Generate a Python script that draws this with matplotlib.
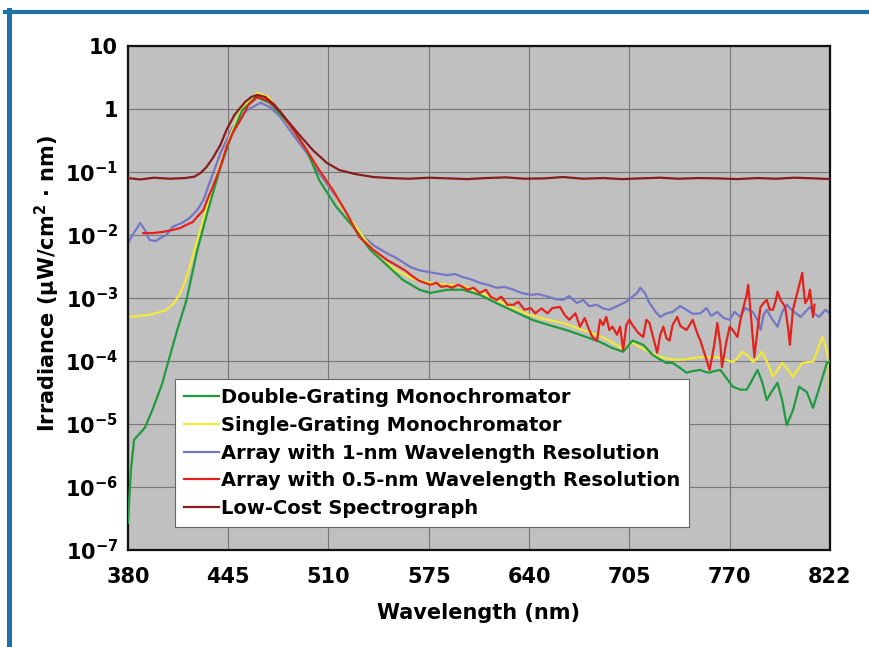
import numpy as np
import matplotlib.pyplot as plt
from matplotlib.lines import Line2D

# 字体设置
plt.rcParams['font.family'] = ['DejaVu Sans']
plt.rcParams['font.weight'] = 'bold'
plt.rcParams['axes.labelweight'] = 'bold'
plt.rcParams['mathtext.fontset'] = 'custom'
plt.rcParams['mathtext.rm'] = 'DejaVu Sans:bold'
plt.rcParams['mathtext.it'] = 'DejaVu Sans:bold'
plt.rcParams['mathtext.bf'] = 'DejaVu Sans:bold'

# 坐标轴刻度
x_ticks = [380, 445, 510, 575, 640, 705, 770, 835]
x_tick_labels = ['380', '445', '510', '575', '640', '705', '770', '822']
y_exponents = [-7, -6, -5, -4, -3, -2, -1, 0, 1]

# Double-Grating Monochromator
double_wl = [380, 382, 384, 391, 396, 402, 407, 412, 418, 425,
             432, 440, 446, 454, 463, 472, 485, 496, 504, 515,
             526, 537, 548, 558, 569, 576, 587, 597, 608, 621,
             631, 642, 653, 664, 675, 686, 694, 701, 707, 714,
             720, 725, 729, 733, 738, 742, 746, 751, 754, 757,
             760, 764, 768, 772, 777, 781, 784, 788, 791, 794,
             797, 801, 804, 807, 811, 815, 820, 824, 828, 833,
             835]
double_irr = [2.7e-7, 1.9e-6, 5.6e-6, 8.7e-6, 1.7e-5, 4.2e-5, 1.15e-4, 3.1e-4, 9.3e-4, 5.8e-3,
              0.025, 0.12, 0.32, 0.95, 1.55, 1.25, 0.56, 0.22, 0.074, 0.028,
              0.0135, 5.8e-3, 3.3e-3, 1.95e-3, 1.35e-3, 1.2e-3, 1.35e-3, 1.35e-3, 1.12e-3, 7.8e-4,
              6.0e-4, 4.5e-4, 3.7e-4, 3.1e-4, 2.5e-4, 2.0e-4, 1.6e-4, 1.4e-4, 2.1e-4, 1.8e-4,
              1.25e-4, 1.05e-4, 9.3e-5, 9.3e-5, 7.7e-5, 6.5e-5, 6.9e-5, 7.2e-5, 6.7e-5, 6.5e-5,
              6.9e-5, 7.2e-5, 5.3e-5, 3.9e-5, 3.5e-5, 3.5e-5, 4.7e-5, 7.2e-5, 4.7e-5, 2.4e-5,
              3.2e-5, 4.5e-5, 2.4e-5, 9.5e-6, 1.65e-5, 3.9e-5, 3.2e-5, 1.8e-5, 3.7e-5, 9.3e-5,
              1.0e-4]

# Single-Grating Monochromator
single_wl = [380, 388, 394, 401, 405, 410, 414, 417, 420, 425,
             430, 435, 441, 446, 454, 464, 471, 478, 487, 496,
             504, 513, 519, 526, 534, 543, 554, 565, 576, 587,
             597, 608, 619, 630, 640, 652, 662, 673, 684, 692,
             701, 707, 713, 718, 723, 729, 734, 740, 745, 751,
             756, 762, 767, 772, 775, 778, 782, 785, 788, 791,
             795, 798, 801, 804, 808, 811, 814, 817, 821, 824,
             827, 830, 832, 834, 835]
single_irr = [5.0e-4, 5.2e-4, 5.4e-4, 6.0e-4, 6.5e-4, 8.3e-4, 1.2e-3, 1.8e-3, 3.1e-3, 8.3e-3,
              0.022, 0.058, 0.155, 0.36, 1.07, 1.8, 1.55, 0.87, 0.47, 0.22,
              0.107, 0.051, 0.027, 0.0155, 8.3e-3, 4.3e-3, 2.75e-3, 2.0e-3, 1.74e-3, 1.62e-3,
              1.55e-3, 1.25e-3, 9.3e-4, 6.9e-4, 5.4e-4, 4.5e-4, 4.0e-4, 3.2e-4, 2.6e-4, 2.1e-4,
              1.55e-4, 1.95e-4, 1.6e-4, 1.4e-4, 1.2e-4, 1.1e-4, 1.05e-4, 1.05e-4, 1.1e-4, 1.15e-4,
              1.15e-4, 1.15e-4, 1.05e-4, 9.6e-5, 1.1e-4, 1.4e-4, 1.2e-4, 9.6e-5, 1.1e-4, 1.4e-4,
              8.7e-5, 5.6e-5, 7.2e-5, 9.3e-5, 7.2e-5, 5.6e-5, 7.2e-5, 9.3e-5, 9.6e-5, 9.6e-5,
              1.5e-4, 2.4e-4, 1.8e-4, 1.05e-4, 2.4e-5]

# Array with 1-nm Wavelength Resolution
array1_wl = [380, 383, 388, 391, 394, 398, 401, 405, 409, 415,
             420, 425, 429, 433, 440, 448, 457, 466, 472, 479,
             487, 496, 504, 513, 522, 530, 539, 548, 554, 563,
             569, 576, 582, 587, 592, 597, 603, 608, 613, 619,
             624, 630, 635, 641, 646, 652, 657, 662, 666, 671,
             675, 679, 684, 688, 692, 697, 703, 707, 710, 712,
             715, 718, 722, 725, 729, 733, 738, 742, 746, 751,
             755, 758, 762, 766, 770, 773, 777, 780, 785, 788,
             790, 792, 794, 797, 801, 804, 807, 811, 816, 819,
             822, 825, 828, 832, 835]
array1_irr = [7.4e-3, 0.010, 0.0155, 0.012, 8.3e-3, 8.0e-3, 8.9e-3, 0.010, 0.0135, 0.0155,
              0.0186, 0.025, 0.036, 0.068, 0.20, 0.51, 0.95, 1.25, 1.07, 0.74,
              0.39, 0.20, 0.096, 0.047, 0.022, 0.0107, 6.9e-3, 5.1e-3, 4.3e-3, 3.1e-3,
              2.75e-3, 2.55e-3, 2.4e-3, 2.3e-3, 2.4e-3, 2.15e-3, 1.95e-3, 1.74e-3, 1.62e-3, 1.45e-3,
              1.5e-3, 1.35e-3, 1.2e-3, 1.12e-3, 1.15e-3, 1.05e-3, 9.6e-4, 9.3e-4, 1.07e-3, 8.3e-4,
              9.3e-4, 7.4e-4, 7.8e-4, 6.8e-4, 6.5e-4, 7.4e-4, 8.7e-4, 1.05e-3, 1.2e-3, 1.45e-3,
              1.2e-3, 8.3e-4, 6.0e-4, 5.0e-4, 5.7e-4, 6.0e-4, 7.4e-4, 6.5e-4, 5.6e-4, 5.7e-4,
              6.9e-4, 5.2e-4, 6.0e-4, 4.8e-4, 4.5e-4, 6.0e-4, 5.0e-4, 6.9e-4, 6.0e-4, 4.5e-4,
              3.1e-4, 5.4e-4, 6.5e-4, 4.8e-4, 3.5e-4, 6.0e-4, 7.8e-4, 6.2e-4, 5.0e-4, 6.0e-4,
              7.2e-4, 5.6e-4, 5.0e-4, 6.5e-4, 5.7e-4]

# Array with 0.5-nm Wavelength Resolution
array05_wl = [390, 396, 403, 409, 414, 418, 422, 425, 429, 432,
              435, 440, 444, 448, 453, 458, 464, 471, 479, 487,
              496, 504, 513, 522, 530, 539, 548, 554, 560, 565,
              569, 576, 580, 583, 587, 590, 594, 597, 600, 604,
              608, 612, 615, 619, 622, 626, 630, 633, 637, 641,
              644, 648, 652, 655, 660, 663, 666, 670, 673, 676,
              679, 681, 684, 686, 688, 690, 692, 694, 697, 699,
              701, 703, 705, 707, 711, 714, 716, 718, 721, 723,
              725, 727, 729, 731, 733, 736, 738, 742, 744, 746,
              749, 751, 754, 757, 760, 762, 764, 765, 768, 770,
              772, 775, 777, 779, 781, 782, 784, 786, 788, 790,
              792, 794, 796, 798, 800, 801, 803, 806, 808, 809,
              811, 814, 816, 817, 818, 819, 821, 822, 824, 825]
array05_irr = [0.0107, 0.0107, 0.0112, 0.012, 0.0129, 0.0145, 0.016, 0.0195, 0.025, 0.039,
               0.058, 0.12, 0.25, 0.42, 0.67, 1.15, 1.55, 1.34, 0.89, 0.47,
               0.22, 0.107, 0.051, 0.0215, 9.3e-3, 5.8e-3, 4.0e-3, 3.3e-3, 2.7e-3, 2.15e-3,
               1.86e-3, 1.62e-3, 1.74e-3, 1.5e-3, 1.55e-3, 1.45e-3, 1.62e-3, 1.5e-3, 1.35e-3, 1.45e-3,
               1.2e-3, 1.35e-3, 1.05e-3, 9.3e-4, 1.05e-3, 7.8e-4, 7.8e-4, 8.7e-4, 6.5e-4, 6.9e-4,
               5.7e-4, 6.8e-4, 5.7e-4, 6.9e-4, 7.2e-4, 5.4e-4, 4.5e-4, 5.7e-4, 3.5e-4, 4.8e-4,
               3.1e-4, 2.4e-4, 2.1e-4, 4.5e-4, 3.7e-4, 5.0e-4, 3.1e-4, 3.5e-4, 2.6e-4, 3.5e-4,
               1.5e-4, 3.7e-4, 4.5e-4, 3.7e-4, 2.75e-4, 2.4e-4, 4.5e-4, 4.0e-4, 2.1e-4, 1.35e-4,
               2.6e-4, 3.5e-4, 2.3e-4, 2.1e-4, 3.7e-4, 5.0e-4, 3.6e-4, 3.1e-4, 3.7e-4, 4.5e-4,
               2.75e-4, 2.1e-4, 1.25e-4, 7.2e-5, 1.8e-4, 4.0e-4, 1.8e-4, 8.0e-5, 2.1e-4, 3.5e-4,
               3.1e-4, 2.4e-4, 4.5e-4, 7.2e-4, 1.12e-3, 1.62e-3, 4.5e-4, 1.15e-4, 3.1e-4, 7.2e-4,
               8.3e-4, 9.3e-4, 6.5e-4, 6.5e-4, 9.3e-4, 1.26e-3, 9.3e-4, 7.2e-4, 3.1e-4, 1.8e-4,
               6.5e-4, 1.26e-3, 1.95e-3, 2.5e-3, 1.35e-3, 8.3e-4, 1.0e-3, 1.35e-3, 5.0e-4, 7.8e-4]

# Low-Cost Spectrograph
lowcost_wl = [380, 388, 397, 407, 417, 423, 427, 431, 435, 440,
              444, 449, 456, 460, 464, 469, 475, 483, 491, 500,
              509, 517, 527, 539, 550, 562, 575, 588, 600, 612,
              625, 637, 650, 662, 675, 688, 700, 712, 725, 737,
              750, 762, 775, 788, 800, 812, 825, 835]
lowcost_irr = [0.080, 0.076, 0.081, 0.078, 0.080, 0.084, 0.096, 0.12, 0.166, 0.27,
               0.47, 0.80, 1.29, 1.55, 1.67, 1.55, 1.16, 0.67, 0.39, 0.22,
               0.139, 0.107, 0.093, 0.083, 0.080, 0.078, 0.081, 0.079, 0.077, 0.080,
               0.082, 0.078, 0.079, 0.083, 0.078, 0.080, 0.077, 0.079, 0.081, 0.078,
               0.080, 0.079, 0.077, 0.080, 0.078, 0.081, 0.079, 0.077]

series = [
    ('Double-Grating Monochromator', double_wl, double_irr, '#1f9a3e', 3),
    ('Single-Grating Monochromator', single_wl, single_irr, '#f2e83a', 2),
    ('Array with 1-nm Wavelength Resolution', array1_wl, array1_irr, '#7476c6', 1),
    ('Array with 0.5-nm Wavelength Resolution', array05_wl, array05_irr, '#e3221e', 4),
    ('Low-Cost Spectrograph', lowcost_wl, lowcost_irr, '#8a1c1f', 5),
]

fig = plt.figure(figsize=(8.7, 6.47), dpi=100, facecolor='white')
ax = fig.add_axes([0.147, 0.150, 0.807, 0.779])
ax.set_facecolor('#c0c0c0')

for label, wl, irr, color, z in series:
    ax.plot(wl, irr, color=color, lw=1.6, label=label, zorder=z)

ax.set_yscale('log')
ax.set_xlim(380, 835)
ax.set_ylim(1e-7, 10)

ax.set_xticks(x_ticks)
ax.set_xticklabels(x_tick_labels)
y_ticks = [10.0 ** e for e in y_exponents]
y_labels = []
for e in y_exponents:
    if e == 1:
        y_labels.append('10')
    elif e == 0:
        y_labels.append('1')
    else:
        y_labels.append(r'$10^{%d}$' % e)
ax.set_yticks(y_ticks)
ax.set_yticklabels(y_labels)
ax.minorticks_off()
ax.tick_params(length=0, labelsize=15)
ax.tick_params(axis='x', pad=12)
ax.tick_params(axis='y', pad=7)

ax.grid(True, color='#767676', lw=0.8)
ax.set_axisbelow(True)
for sp in ax.spines.values():
    sp.set_linewidth(1.6)
    sp.set_color('#111111')

ax.set_xlabel('Wavelength (nm)', fontsize=15, fontweight='bold')
ax.set_ylabel(r'Irradiance (µW/cm$^2$ · nm)', fontsize=15, fontweight='bold')
ax.xaxis.set_label_coords(0.5, -0.105)
ax.yaxis.set_label_coords(-0.094, 0.528)

leg = ax.legend(loc='lower left', bbox_to_anchor=(0.067, 0.046), borderaxespad=0,
                prop={'size': 14, 'weight': 'bold'}, handlelength=1.8, handletextpad=0.12,
                labelspacing=0.45, borderpad=0.45, fancybox=False, framealpha=1,
                edgecolor='#666666')
leg.get_frame().set_linewidth(0.8)
leg.set_zorder(10)

# 蓝色边框
fig.add_artist(Line2D([5 / 870, 1], [1 - 12 / 647, 1 - 12 / 647], color='#1f6fa8', lw=3,
                      transform=fig.transFigure))
fig.add_artist(Line2D([9.5 / 870, 9.5 / 870], [0, 1 - 10 / 647], color='#1f6fa8', lw=3.6,
                      transform=fig.transFigure))

fig.savefig('out.png', dpi=100)
